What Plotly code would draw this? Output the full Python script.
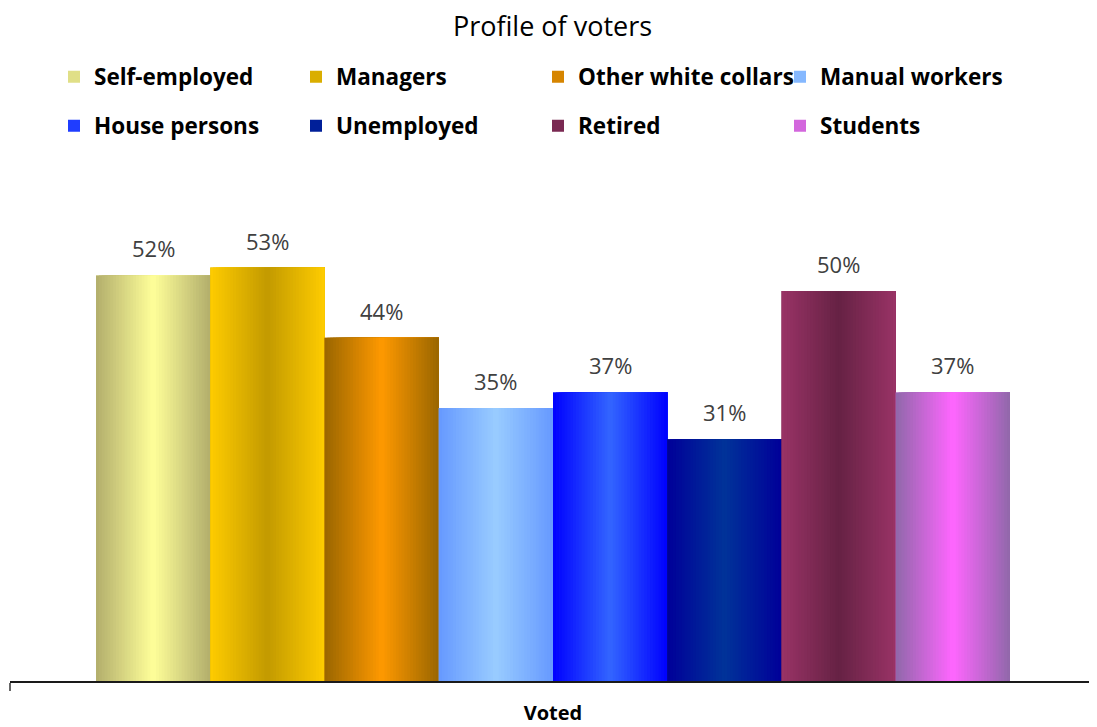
import plotly.graph_objects as go

# ---- data ----
category = "Voted"
groups = ["Self-employed", "Managers", "Other white collars", "Manual workers",
          "House persons", "Unemployed", "Retired", "Students"]
values = [0.52, 0.53, 0.44, 0.35, 0.37, 0.31, 0.50, 0.37]
labels = ["52%", "53%", "44%", "35%", "37%", "31%", "50%", "37%"]

# gradient styling: (edge colour, centre colour)
edge_colors = ["#B2AE6C", "#FFCC00", "#996600", "#6699FF",
               "#0000FF", "#000099", "#993366", "#9068AA"]
center_colors = ["#FFFF99", "#C29A00", "#FF9900", "#99CCFF",
                 "#3366FF", "#003399", "#662244", "#FF66FF"]


def hex2rgb(h):
    h = h.lstrip("#")
    return tuple(int(h[i:i + 2], 16) for i in (0, 2, 4))


def mix(c1, c2, t):
    a, b = hex2rgb(c1), hex2rgb(c2)
    return "rgb(%d,%d,%d)" % tuple(round(a[i] + (b[i] - a[i]) * t) for i in range(3))


W, H = 1089, 719
T, B, L, R = 205, 46, 2, 1
PW, PH = W - L - R, H - T - B

n_bars = len(groups)
total_width = 0.8416
bw = total_width / n_bars
left0 = -total_width / 2
N = 40
step = bw / N

fig = go.Figure()
for i, (g, v) in enumerate(zip(groups, values)):
    off = left0 + i * bw
    # base bar (carries legend entry)
    fig.add_trace(go.Bar(
        x=[category], y=[v], width=bw, offset=off, name=g,
        marker=dict(color=mix(edge_colors[i], center_colors[i], 0.6), line=dict(width=0)),
        legend="legend" if i < 4 else "legend2", legendgroup=g,
        hoverinfo="skip"))
    # shading strips
    offs, widths, cols = [], [], []
    for k in range(N):
        pos = (k + 0.5) / N
        t = 1 - abs(pos - 0.5) * 2
        offs.append(off + k * step)
        widths.append(bw - k * step)
        cols.append(mix(edge_colors[i], center_colors[i], t))
    fig.add_trace(go.Bar(
        x=[category] * N, y=[v] * N, offset=offs, width=widths,
        marker=dict(color=cols, line=dict(width=0)),
        showlegend=False, legendgroup=g, hoverinfo="skip"))
    fig.add_annotation(
        x=off + bw / 2, y=v, text=labels[i], showarrow=False,
        yanchor="bottom", yshift=10,
        font=dict(family="Open Sans", size=22, color="#404040"))

legend_common = dict(orientation="h", x=44 / PW, xanchor="left",
                     yanchor="middle", entrywidth=197, entrywidthmode="pixels",
                     font=dict(family="Open Sans", size=22.5, color="#000000", weight="bold"),
                     bgcolor="rgba(0,0,0,0)")

fig.update_layout(
    width=W, height=H,
    barmode="overlay",
    paper_bgcolor="white", plot_bgcolor="white",
    margin=dict(l=L, r=R, t=T, b=B, autoexpand=False),
    title=dict(text="Profile of voters", x=0.5, xanchor="center",
               y=1 - 19 / H, yanchor="middle",
               font=dict(family="Open Sans", size=27, color="#000000")),
    legend=dict(y=1 + (T - 69) / PH, **legend_common),
    legend2=dict(y=1 + (T - 118) / PH, **legend_common),
    xaxis=dict(type="category", range=[-0.5, 0.5], showline=True, automargin=False,
               linecolor="#1a1a1a", linewidth=1.5, ticks="outside",
               tickson="boundaries", ticklen=8, tickcolor="#666666", tickwidth=2,
               showgrid=False,
               tickfont=dict(family="Open Sans", size=20, color="#000000", weight="bold"),
               ticklabelstandoff=13),
    yaxis=dict(range=[0, 0.6], visible=False, showgrid=False, zeroline=False),
)

fig.write_html("out.html")
